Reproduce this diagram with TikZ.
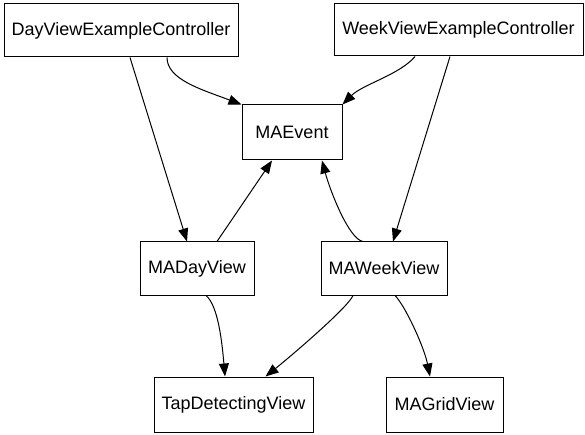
\documentclass[tikz,border=0pt]{standalone}
\usepackage{fontspec}
\setmainfont{Liberation Sans}
\usetikzlibrary{arrows.meta,positioning}

\begin{document}
\begin{tikzpicture}[x=1pt,y=-1pt,
  cls/.style={draw,line width=1pt,inner sep=0pt,font=\fontsize{18}{22}\selectfont},
  dep/.style={-{Triangle[length=13pt,width=10pt]},line width=1pt}]

\useasboundingbox (0,0) rectangle (585,435);

% classes
\node [cls,minimum width=234pt,minimum height=53pt] (dvc) at (121,30.5) {DayViewExampleController};
\node [cls,minimum width=249pt,minimum height=52pt] (wvc) at (458.5,30) {WeekViewExampleController};
\node [cls,minimum width=100pt,minimum height=55pt] (ev) at (292,132.5) {MAEvent};
\node [cls,minimum width=114pt,minimum height=53pt] (dv) at (197,268.5) {MADayView};
\node [cls,minimum width=126pt,minimum height=53pt] (wv) at (384,268.5) {MAWeekView};
\node [cls,minimum width=159pt,minimum height=55pt] (tap) at (233.5,404.5) {TapDetectingView};
\node [cls,minimum width=117pt,minimum height=55pt] (grid) at (444.5,404.5) {MAGridView};

% dependencies
\draw[dep] ([xshift=9pt]dvc.south) -- ([xshift=-10pt]dv.north);
\draw[dep] ([xshift=46pt]dvc.south) .. controls +(0,22) and +(-40,-15) .. (ev.north west);
\draw[dep] ([xshift=-43.5pt]wvc.south) .. controls +(-15,18) and +(20,-20) .. (ev.north east);
\draw[dep] ([xshift=-8.5pt]wvc.south) -- ([xshift=9pt]wv.north);
\draw[dep] ([xshift=20pt]dv.north) -- ([xshift=-20pt]ev.south);
\draw[dep] ([xshift=-21pt]wv.north) .. controls +(-14,-2) and +(8,30) .. ([xshift=30pt]ev.south);
\draw[dep] ([xshift=9pt]dv.south) .. controls +(12,10) and +(-3,-35) .. ([xshift=-8.5pt]tap.north);
\draw[dep] ([xshift=-31pt]wv.south) .. controls +(-5,12) and +(25,-20) .. ([xshift=32pt]tap.north);
\draw[dep] ([xshift=11pt]wv.south) .. controls +(10,10) and +(-6,-30) .. ([xshift=-14.5pt]grid.north);

\end{tikzpicture}
\end{document}
